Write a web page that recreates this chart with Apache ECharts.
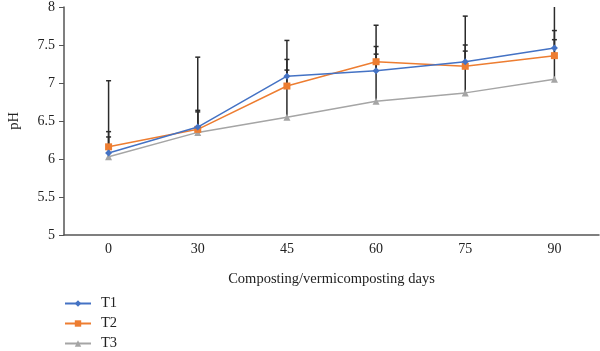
<!DOCTYPE html>
<html>
<head>
<meta charset="utf-8">
<script src="https://cdn.jsdelivr.net/npm/echarts@6/dist/echarts.min.js"></script>
<style>
html, body { margin: 0; padding: 0; background: #fff; }
#main { width: 600px; height: 351px; }
</style>
</head>
<body>
<div id="main"></div>
<script>
var days = ['0', '30', '45', '60', '75', '90'];
var t1 = [6.08, 6.42, 7.09, 7.16, 7.28, 7.46];
var t2 = [6.16, 6.39, 6.96, 7.28, 7.22, 7.36];
var t3 = [6.03, 6.35, 6.55, 6.76, 6.87, 7.05];
// top of each error bar (value + sd)
var t1Top = [7.03, 7.34, 7.56, 7.76, 7.88, 8.1];
var t2Top = [6.36, 6.64, 7.31, 7.48, 7.50, 7.69];
var t3Top = [6.29, 6.62, 7.17, 7.38, 7.42, 7.57];

var serif = 'Liberation Serif';

function errData(vals, tops) {
	var out = [];
	for (let i = 0; i < vals.length; i++) {
		out.push([i, vals[i], tops[i]]);
	}
	return out;
}

function renderErr(params, api) {
	var lo = api.coord([api.value(0), api.value(1)]);
	var hi = api.coord([api.value(0), api.value(2)]);
	var style = { stroke: '#2b2b2b', lineWidth: 1.5 };
	return {
		type: 'group',
		children: [
			{ type: 'line', shape: { x1: lo[0], y1: lo[1], x2: hi[0], y2: hi[1] }, style: style },
			{ type: 'line', shape: { x1: hi[0] - 2.5, y1: hi[1], x2: hi[0] + 2.5, y2: hi[1] }, style: style }
		]
	};
}

var errSeries = [[t1, t1Top], [t2, t2Top], [t3, t3Top]].map(function (p) {
	return {
		type: 'custom',
		renderItem: renderErr,
		data: errData(p[0], p[1]),
		z: 1,
		silent: true,
		clip: true
	};
});

var opcoes = {
	animation: false,
	textStyle: { fontFamily: serif },
	grid: { left: 64, right: 1, top: 7, bottom: 116, outerBoundsMode: 'none' },
	legend: {
		orient: 'vertical',
		left: 64,
		top: 296,
		padding: 0,
		itemWidth: 26,
		itemHeight: 8,
		itemGap: 5,
		textStyle: { fontFamily: serif, fontSize: 14.5, lineHeight: 14, color: '#222', padding: [0, 0, 0, 5] },
		data: ['T1', 'T2', 'T3']
	},
	xAxis: {
		type: 'category',
		data: days,
		name: 'Composting/vermicomposting days',
		nameLocation: 'middle',
		nameGap: 37,
		nameTextStyle: { fontFamily: serif, fontSize: 14.5, color: '#222' },
		axisLine: { lineStyle: { color: '#555', width: 1.5 } },
		axisTick: { show: false },
		axisLabel: { fontFamily: serif, fontSize: 14, color: '#222', margin: 7 }
	},
	yAxis: {
		type: 'value',
		min: 5,
		max: 8,
		interval: 0.5,
		name: 'pH',
		nameLocation: 'middle',
		nameGap: 42,
		nameTextStyle: { fontFamily: serif, fontSize: 14.5, color: '#222' },
		axisLine: { show: true, lineStyle: { color: '#555', width: 1.5 } },
		axisTick: { show: true, length: 5, lineStyle: { color: '#555' } },
		splitLine: { show: false },
		axisLabel: { fontFamily: serif, fontSize: 14, color: '#222', margin: 9 }
	},
	series: errSeries.concat([
		{
			name: 'T1', type: 'line', data: t1, z: 4,
			symbol: 'diamond', symbolSize: 7,
			itemStyle: { color: '#4472C4' },
			lineStyle: { color: '#4472C4', width: 1.5 }
		},
		{
			name: 'T2', type: 'line', data: t2, z: 3,
			symbol: 'rect', symbolSize: 7,
			itemStyle: { color: '#ED7D31' },
			lineStyle: { color: '#ED7D31', width: 1.5 }
		},
		{
			name: 'T3', type: 'line', data: t3, z: 2,
			symbol: 'triangle', symbolSize: 7,
			itemStyle: { color: '#A5A5A5' },
			lineStyle: { color: '#A5A5A5', width: 1.5 }
		}
	])
};

var myChart = echarts.init(document.getElementById('main'));
myChart.setOption(opcoes);
</script>
</body>
</html>
